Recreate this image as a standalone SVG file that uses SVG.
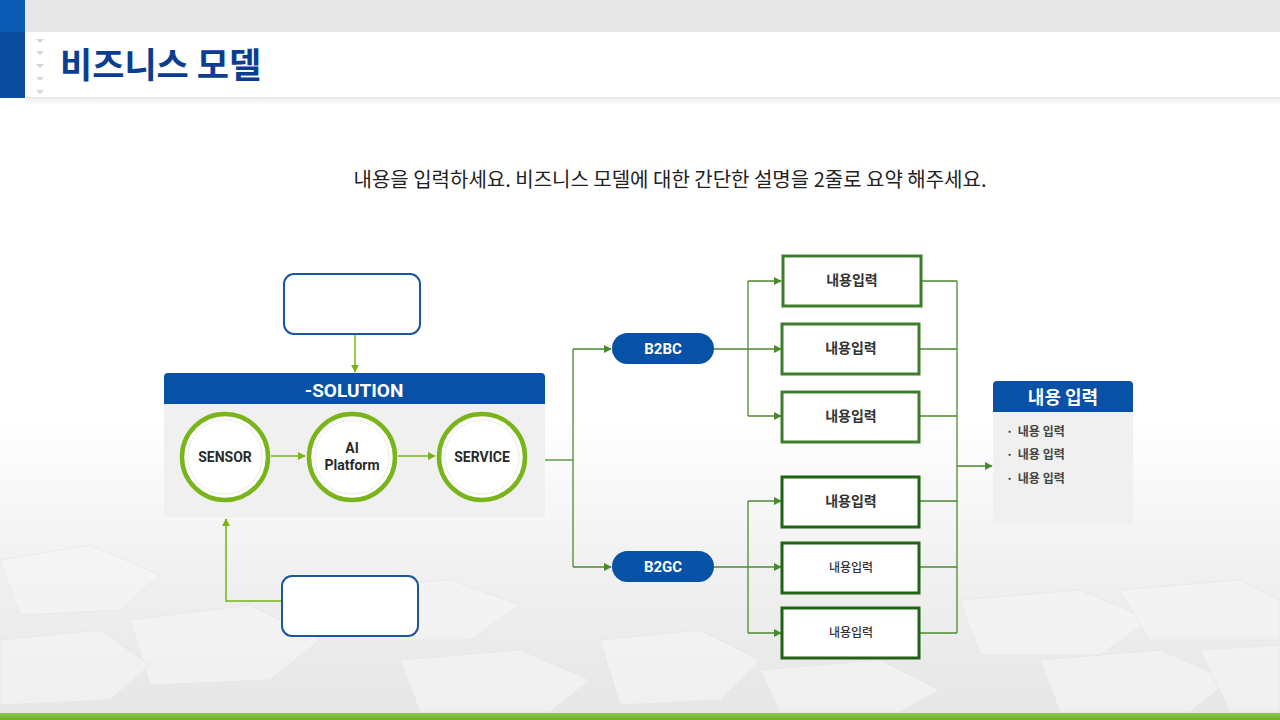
<svg xmlns="http://www.w3.org/2000/svg" width="1280" height="720" viewBox="0 0 1280 720">
<defs>
<linearGradient id="bg" x1="0" y1="0" x2="0" y2="1">
<stop offset="0" stop-color="#ffffff"/>
<stop offset="0.58" stop-color="#ffffff"/>
<stop offset="0.8" stop-color="#f0f0f0"/>
<stop offset="1" stop-color="#e6e6e6"/>
</linearGradient>
<linearGradient id="hdrsh" x1="0" y1="0" x2="0" y2="1">
<stop offset="0" stop-color="#e6e6e6"/>
<stop offset="1" stop-color="#ffffff" stop-opacity="0"/>
</linearGradient>
<linearGradient id="gbar" x1="0" y1="0" x2="0" y2="1">
<stop offset="0" stop-color="#8cc84b"/>
<stop offset="1" stop-color="#6cae2e"/>
</linearGradient>
<marker id="ag" viewBox="0 0 10 10" refX="9" refY="5" markerWidth="8" markerHeight="8" markerUnits="userSpaceOnUse" orient="auto"><path d="M0,0 L10,5 L0,10 z" fill="#7ab317"/></marker>
<marker id="ad" viewBox="0 0 10 10" refX="9" refY="5" markerWidth="8" markerHeight="8" markerUnits="userSpaceOnUse" orient="auto"><path d="M0,0 L10,5 L0,10 z" fill="#4a8a2e"/></marker>
<style>
.t{font-family:Roboto,"Noto Sans","Noto Sans CJK KR",sans-serif}
.k{font-family:"Noto Sans CJK KR","Noto Sans",sans-serif}
.blueBox{fill:#fff;stroke:#1b56a0;stroke-width:2}
.circ{fill:#fff;stroke:#79b51a;stroke-width:4.5}
.dot{fill:none;stroke:#a9c98a;stroke-width:0.8;stroke-dasharray:1 1.5}
.gbox{fill:#fff;stroke:#3f7d2c;stroke-width:3}
.gbox2{fill:#fff;stroke:#1f6313;stroke-width:3}
.lg{fill:none;stroke:#7ab317;stroke-width:1.5}
.ld{fill:none;stroke:#4a8a2e;stroke-width:1.3}
.bt{font-weight:700;font-size:14px;fill:#333;text-anchor:middle}
.bs{font-weight:500;font-size:12px;fill:#333;text-anchor:middle}
.ct{font-weight:700;font-size:14px;fill:#2a2a2a;text-anchor:middle}
.hex{fill:#f7f7f7;stroke:#e6e6e6;stroke-width:1}
</style>
</defs>
<rect width="1280" height="720" fill="url(#bg)"/>
<g id="background-hex" opacity="0.6">
<polygon class="hex" points="0,560 90,545 160,575 120,610 20,615" />
<polygon class="hex" points="130,620 250,605 320,640 270,680 150,685"/>
<polygon class="hex" points="330,590 450,580 520,605 470,640 360,640"/>
<polygon class="hex" points="0,640 100,630 150,665 110,700 0,705"/>
<polygon class="hex" points="400,660 520,650 590,680 550,712 420,712"/>
<polygon class="hex" points="600,640 700,630 760,660 720,700 620,705"/>
<polygon class="hex" points="960,600 1080,590 1150,620 1100,655 980,655"/>
<polygon class="hex" points="1120,590 1240,580 1280,600 1280,640 1150,640"/>
<polygon class="hex" points="1040,660 1160,650 1230,680 1190,712 1060,712"/>
<polygon class="hex" points="760,670 880,660 940,690 900,712 780,712"/>
<polygon class="hex" points="1200,650 1280,645 1280,712 1230,712"/>
</g>
<g id="header">
<rect x="25" y="0" width="1255" height="32" fill="#e8e8e8"/>
<rect x="25" y="32" width="1255" height="66" fill="#ffffff"/>
<rect x="25" y="97" width="1255" height="10" fill="url(#hdrsh)"/>
<rect x="0" y="0" width="25" height="32" fill="#0a5db2"/>
<rect x="0" y="32" width="25" height="66" fill="#0b4c9e"/>
<g fill="#d6d6d6">
<path d="M36,39 h8 l-4,4 z"/><path d="M36,51 h8 l-4,4 z"/><path d="M36,64 h8 l-4,4 z"/><path d="M36,77 h8 l-4,4 z"/><path d="M36,90 h8 l-4,4 z"/>
</g>
<text x="60" y="78" class="k" font-size="35" font-weight="700" fill="#0b3d91">비즈니스 모델</text>
</g>
<text id="subtitle" x="670" y="187" class="k" font-size="20" fill="#222" text-anchor="middle">내용을 입력하세요. 비즈니스 모델에 대한 간단한 설명을 2줄로 요약 해주세요.</text>
<g id="solution">
<rect x="164" y="380" width="381" height="137" fill="#f0f0f0"/>
<path d="M164,404 V377 a4,4 0 0 1 4,-4 H541 a4,4 0 0 1 4,4 V404 z" fill="#0751a6"/>
<text x="354" y="397" class="t" font-size="19" font-weight="700" fill="#fff" text-anchor="middle">-SOLUTION</text>
</g>
<g id="connectors">
<path class="lg" d="M355,334 V372" marker-end="url(#ag)"/>
<path class="lg" d="M282,601 H226 V519" marker-end="url(#ag)"/>
<path class="lg" d="M271,456 H305" marker-end="url(#ag)"/>
<path class="lg" d="M398,456 H435" marker-end="url(#ag)"/>
<path class="ld" d="M545,460 H573"/>
<path class="ld" d="M573,349 V567"/>
<path class="ld" d="M573,349 H611" marker-end="url(#ad)"/>
<path class="ld" d="M573,567 H611" marker-end="url(#ad)"/>
<path class="ld" d="M713,349 H781" marker-end="url(#ad)"/>
<path class="ld" d="M748,281 V416"/>
<path class="ld" d="M748,281 H781" marker-end="url(#ad)"/>
<path class="ld" d="M748,416 H781" marker-end="url(#ad)"/>
<path class="ld" d="M713,567 H781" marker-end="url(#ad)"/>
<path class="ld" d="M748,501 V633"/>
<path class="ld" d="M748,501 H781" marker-end="url(#ad)"/>
<path class="ld" d="M748,633 H781" marker-end="url(#ad)"/>
<path class="ld" d="M921,281 H957 M920,349 H957 M920,416 H957 M920,501 H957 M920,567 H957 M920,633 H957"/>
<path class="ld" d="M957,281 V633"/>
<path class="ld" d="M957,466 H992" marker-end="url(#ad)"/>
</g>
<g id="input-top"><rect class="blueBox" x="284" y="274" width="136" height="60" rx="10"/></g>
<g id="input-bottom"><rect class="blueBox" x="282" y="576" width="136" height="60" rx="10"/></g>
<g id="sensor">
<circle class="circ" cx="225" cy="457" r="43"/><circle class="dot" cx="225" cy="457" r="37"/>
<text x="225" y="462" class="t ct">SENSOR</text>
</g>
<g id="ai-platform">
<circle class="circ" cx="352" cy="457" r="43"/><circle class="dot" cx="352" cy="457" r="37"/>
<text x="352" y="453" class="t ct">AI</text>
<text x="352" y="470" class="t ct">Platform</text>
</g>
<g id="service">
<circle class="circ" cx="482" cy="457" r="43"/><circle class="dot" cx="482" cy="457" r="37"/>
<text x="482" y="462" class="t ct">SERVICE</text>
</g>
<g id="b2bc"><rect x="612" y="333" width="102" height="31" rx="15.5" fill="#0751a6"/><text x="663" y="354" class="t" font-size="15" font-weight="700" fill="#fff" text-anchor="middle">B2BC</text></g>
<g id="b2gc"><rect x="612" y="551" width="102" height="31" rx="15.5" fill="#0751a6"/><text x="663" y="572" class="t" font-size="15" font-weight="700" fill="#fff" text-anchor="middle">B2GC</text></g>
<g id="item1"><rect class="gbox" x="783" y="256" width="138" height="50"/><text x="852" y="285" class="k bt">내용입력</text></g>
<g id="item2"><rect class="gbox" x="782" y="324" width="137" height="50"/><text x="851" y="353" class="k bt">내용입력</text></g>
<g id="item3"><rect class="gbox" x="782" y="392" width="137" height="50"/><text x="851" y="421" class="k bt">내용입력</text></g>
<g id="item4"><rect class="gbox2" x="782" y="477" width="137" height="50"/><text x="851" y="506" class="k bt">내용입력</text></g>
<g id="item5"><rect class="gbox2" x="782" y="543" width="137" height="50"/><text x="851" y="572" class="k bs">내용입력</text></g>
<g id="item6"><rect class="gbox2" x="782" y="608" width="137" height="50"/><text x="851" y="637" class="k bs">내용입력</text></g>
<g id="result">
<rect x="993" y="405" width="140" height="120" fill="#f0f0f0"/>
<path d="M993,412 V385 a4,4 0 0 1 4,-4 H1129 a4,4 0 0 1 4,4 V412 z" fill="#0751a6"/>
<text x="1063" y="404" class="k" font-size="18" font-weight="700" fill="#fff" text-anchor="middle">내용 입력</text>
<text x="1006" y="436" class="k" font-size="12" font-weight="700" fill="#444">· <tspan dx="2">내용 입력</tspan></text>
<text x="1006" y="459" class="k" font-size="12" font-weight="700" fill="#444">· <tspan dx="2">내용 입력</tspan></text>
<text x="1006" y="483" class="k" font-size="12" font-weight="700" fill="#444">· <tspan dx="2">내용 입력</tspan></text>
</g>
<rect id="footer-bar" x="0" y="713" width="1280" height="7" fill="url(#gbar)"/>
</svg>
